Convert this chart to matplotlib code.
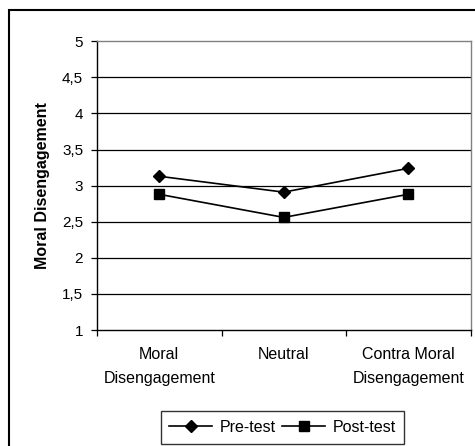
import numpy as np
import matplotlib.pyplot as plt
from matplotlib.patches import Rectangle

plt.rcParams['font.family'] = ['Liberation Sans', 'DejaVu Sans']

categories = ['Moral\nDisengagement', 'Neutral', 'Contra Moral\nDisengagement']
pre_test = [3.13, 2.91, 3.24]
post_test = [2.88, 2.56, 2.88]
y_ticks = [1, 1.5, 2, 2.5, 3, 3.5, 4, 4.5, 5]
y_tick_labels = ['1', '1,5', '2', '2,5', '3', '3,5', '4', '4,5', '5']

fig = plt.figure(figsize=(4.75, 4.46), dpi=100)
ax = fig.add_axes([97 / 475, 1 - 330 / 446, (470.5 - 97) / 475, (330 - 41.3) / 446])

# outer chart border (only left/top visible in the picture)
fig.patches.append(Rectangle((9 / 475, -0.1), 1.2, 1 - 10 / 446 + 0.1, transform=fig.transFigure,
                             fill=False, edgecolor='black', linewidth=1.5))

x = np.arange(len(categories))
ax.plot(x, pre_test, color='black', linewidth=1.2, marker='D', markersize=6.5, label='Pre-test')
ax.plot(x, post_test, color='black', linewidth=1.2, marker='s', markersize=6.8, label='Post-test')

ax.set_xlim(-0.5, len(categories) - 0.5)
ax.set_ylim(1, 5)
for yv in y_ticks[1:-1]:
    ax.axhline(yv, color='black', linewidth=0.9, zorder=0)

ax.set_yticks(y_ticks)
ax.set_yticklabels(y_tick_labels, fontsize=11)
ax.set_xticks(x)
ax.set_xticklabels(categories, fontsize=11.5, linespacing=1.75)
ax.set_xticks(np.arange(-0.5, len(categories)), minor=True)
ax.tick_params(axis='x', which='major', length=0, pad=12)
ax.tick_params(axis='x', which='minor', length=4, direction='out', width=0.9)
ax.tick_params(axis='y', length=4, direction='out', width=0.9, pad=6)

for side in ['top', 'right']:
    ax.spines[side].set_color('#808080')
    ax.spines[side].set_linewidth(1)
for side in ['left', 'bottom']:
    ax.spines[side].set_color('black')
    ax.spines[side].set_linewidth(1)

ax.set_ylabel('Moral Disengagement', fontsize=11.5, fontweight='bold')
ax.yaxis.set_label_coords(-0.127, 0.5)

leg = fig.legend(loc='center', bbox_to_anchor=(282.5 / 475, 1 - 427.5 / 446), ncol=2, fontsize=11.5,
                 frameon=True, fancybox=False, edgecolor='black', handlelength=2.7, handletextpad=0.45,
                 columnspacing=0.4, borderpad=0.55, borderaxespad=0)
leg.get_frame().set_linewidth(1)

fig.savefig('out.png', dpi=100)
